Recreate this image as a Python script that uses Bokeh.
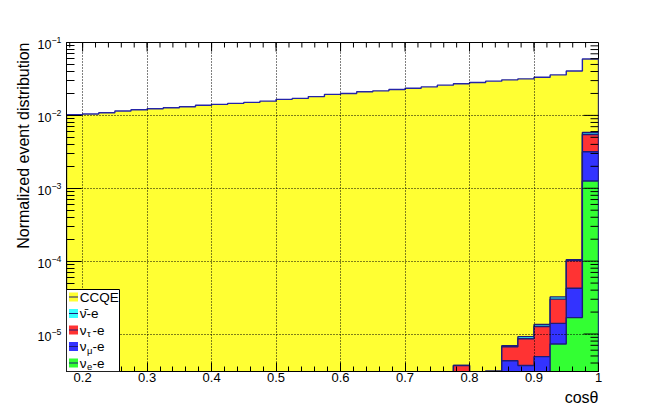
import math
from bokeh.plotting import figure
from bokeh.models import Range1d, FixedTicker, LogTickFormatter, BoxAnnotation, Label, Title
from bokeh.embed import file_html
from bokeh.resources import INLINE

# ---------------- data ----------------
bin_width = 0.025
bin_low = [0.175, 0.200, 0.225, 0.250, 0.275, 0.300, 0.325, 0.350, 0.375, 0.400,
           0.425, 0.450, 0.475, 0.500, 0.525, 0.550, 0.575, 0.600, 0.625, 0.650,
           0.675, 0.700, 0.725, 0.750, 0.775, 0.800, 0.825, 0.850, 0.875, 0.900,
           0.925, 0.950, 0.975]

ccqe = [0.01022, 0.01045, 0.01089, 0.01148, 0.01196, 0.01234, 0.01273, 0.01314,
        0.01374, 0.01417, 0.01462, 0.01510, 0.01571, 0.01659, 0.01711, 0.01811,
        0.01941, 0.02000, 0.02110, 0.02170, 0.02270, 0.02360, 0.02460, 0.02600,
        0.02710, 0.02830, 0.02950, 0.03070, 0.03170, 0.03340, 0.03590, 0.04060,
        0.05360]
nubar_e = [0, 0, 0, 0, 0, 0, 0, 0, 0, 0, 0, 0, 0, 0, 0, 0, 0, 0, 0, 0, 0, 0, 0, 0,
           0, 0, 0, 0.2e-6, 0.6e-6, 0.8e-6, 2.2e-6, 3.4e-6, 3.5e-4]
nutau_e = [0, 0, 0, 0, 0, 0, 0, 0, 0, 0, 0, 0, 0, 0, 0, 0, 0, 0, 0, 0, 0, 0, 0, 0,
           3.7e-6, 0, 3.1e-6, 2.4e-6, 4.9e-6, 7.8e-6, 1.61e-5, 5.9e-5, 2.29e-3]
numu_e = [0, 0, 0, 0, 0, 0, 0, 0, 0, 0, 0, 0, 0, 0, 0, 0, 0, 0, 0, 0, 0, 0, 0, 0,
          0, 0, 0, 4.3e-6, 3.7e-6, 4.9e-6, 6.7e-6, 2.57e-5, 1.91e-3]
nue_e = [0, 0, 0, 0, 0, 0, 0, 0, 0, 0, 0, 0, 0, 0, 0, 0, 0, 0, 0, 0, 0, 0, 0, 0,
         0, 0, 0, 0, 0, 0, 7.3e-6, 1.68e-5, 1.26e-3]

x_major_ticks = [0.2, 0.3, 0.4, 0.5, 0.6, 0.7, 0.8, 0.9, 1.0]
x_tick_labels = {1.0: "1"}
y_major_ticks = [1e-5, 1e-4, 1e-3, 1e-2, 1e-1]
x_title = "cosθ"
y_title = "Normalized event distribution"

# stacking order from bottom to top
layers = [
    ("ν_e-e", nue_e, "#33ff33"),
    ("ν_μ-e", numu_e, "#3333ff"),
    ("ν_τ-e", nutau_e, "#ff3333"),
    ("ν̄-e", nubar_e, "#33ffff"),
    ("CCQE", ccqe, "#ffff33"),
]

FONT = "Liberation Sans"
X_MIN, X_MAX = 0.175, 1.0
Y_MIN, Y_MAX = 3.06e-6, 0.1
FLOOR = 1e-9
W, H = 660, 411
BL, BR, BT, BB = 66, 62, 42, 40
FRAME_W, FRAME_H = W - BL - BR, H - BT - BB

p = figure(width=W, height=H, output_backend="svg", toolbar_location=None,
           x_range=Range1d(X_MIN, X_MAX), y_range=Range1d(Y_MIN, Y_MAX),
           y_axis_type="log", min_border_left=BL, min_border_right=BR,
           min_border_top=BT, min_border_bottom=BB)
p.outline_line_color = "black"
p.outline_line_width = 1
p.background_fill_color = "white"
p.border_fill_color = "white"

# cumulative stack
cum = [0.0] * len(bin_low)
cums = []
for name, vals, color in layers:
    cum = [c + v for c, v in zip(cum, vals)]
    cums.append((name, list(cum), color))

# draw from the top of the stack down (like THStack)
for name, c, color in reversed(cums):
    xs, ys = [bin_low[0]], [FLOOR]
    for lo, v in zip(bin_low, c):
        h = max(v, FLOOR)
        xs += [lo, lo + bin_width]
        ys += [h, h]
    xs.append(bin_low[-1] + bin_width)
    ys.append(FLOOR)
    p.patch(xs, ys, fill_color=color, line_color=None)
    lc = "#2424a8" if name == "CCQE" else "#1c1c78"
    p.line(xs, ys, line_color=lc, line_width=1.4)

# ticks
x_minor = [round(0.18 + 0.02 * i, 2) for i in range(42)]
y_minor = [k * 10.0 ** e for e in range(-6, -1) for k in range(2, 10)]
y_minor = [v for v in y_minor if Y_MIN < v < Y_MAX]

def style_axis(ax, maj, mnr):
    ax.major_tick_in = maj
    ax.major_tick_out = 0
    ax.minor_tick_in = mnr
    ax.minor_tick_out = 0
    ax.axis_line_color = "black"
    ax.major_tick_line_color = "black"
    ax.minor_tick_line_color = "black"
    ax.major_label_text_font = FONT
    ax.major_label_text_color = "black"

xa = p.xaxis[0]
xa.ticker = FixedTicker(ticks=x_major_ticks, minor_ticks=x_minor)
xa.major_label_overrides = x_tick_labels
style_axis(xa, 9, 5)
xa.major_label_text_font_size = "13px"
xa.major_label_standoff = 1

ya = p.yaxis[0]
ya.ticker = FixedTicker(ticks=y_major_ticks, minor_ticks=y_minor)
ya.formatter = LogTickFormatter()
style_axis(ya, 15, 8)
ya.major_label_text_font_size = "12.5px"
ya.major_label_standoff = 5

# axis titles as side titles, aligned to the frame end (ROOT style)
p.add_layout(Title(text=x_title, align="right", text_font=FONT, text_font_size="16px",
                   text_font_style="normal", text_color="black", standoff=5), "below")
p.add_layout(Title(text=y_title, align="right", text_font=FONT, text_font_size="16px",
                   text_font_style="normal", text_color="black", standoff=6), "left")

# ROOT-style ticks on the top and right frame edges (pixel lengths -> data units)
decades_per_px = math.log10(Y_MAX / Y_MIN) / FRAME_H
x_per_px = (X_MAX - X_MIN) / FRAME_W
tx0, tx1, ty0, ty1 = [], [], [], []
for t, L in [(t, 9) for t in x_major_ticks] + [(t, 5) for t in x_minor]:
    if X_MIN < t < X_MAX:
        tx0.append(t); tx1.append(t)
        ty0.append(Y_MAX); ty1.append(Y_MAX * 10 ** (-L * decades_per_px))
for t, L in [(t, 15) for t in y_major_ticks] + [(t, 8) for t in y_minor]:
    if Y_MIN < t < Y_MAX:
        tx0.append(X_MAX); tx1.append(X_MAX - L * x_per_px)
        ty0.append(t); ty1.append(t)
p.segment(x0=tx0, y0=ty0, x1=tx1, y1=ty1, line_color="black", line_width=1)

for g in (p.xgrid[0], p.ygrid[0]):
    g.grid_line_color = "black"
    g.grid_line_dash = "1 2"
    g.grid_line_width = 1
    g.level = "guide"

# legend (ROOT TLegend look)
def sbox(l, r, b, t, **kw):
    return BoxAnnotation(left=l, right=r, bottom=b, top=t,
                         left_units="screen", right_units="screen",
                         bottom_units="screen", top_units="screen", **kw)

p.add_layout(sbox(0, 53, 0, 82, fill_color="white", fill_alpha=1.0,
                  line_color="black", line_width=1, line_alpha=1.0))
row_y = [74.5, 58, 41.5, 25, 8.5]
for (name, c, color), yc in zip(list(reversed(cums)), row_y):
    p.add_layout(sbox(2.5, 11.5, yc - 4.5, yc + 4.5, fill_color=color,
                      fill_alpha=1.0, line_color=None))
    p.add_layout(sbox(2.5, 11.5, yc - 0.6, yc + 0.6, fill_color="#1c1c78",
                      fill_alpha=1.0, line_color=None))
    if "_" in name:
        base, rest = name.split("_")
        sub, tail = rest[0], rest[1:]
        p.add_layout(Label(x=13.3, y=yc, x_units="screen", y_units="screen", text=base,
                           text_baseline="middle", text_font=FONT,
                           text_font_size="13.5px", text_color="black"))
        p.add_layout(Label(x=20.5, y=yc - 3.5, x_units="screen", y_units="screen", text=sub,
                           text_baseline="middle", text_font=FONT,
                           text_font_size="9.5px", text_color="black"))
        p.add_layout(Label(x=26, y=yc, x_units="screen", y_units="screen", text=tail,
                           text_baseline="middle", text_font=FONT,
                           text_font_size="13.5px", text_color="black"))
    else:
        p.add_layout(Label(x=13.3, y=yc, x_units="screen", y_units="screen", text=name,
                           text_baseline="middle", text_font=FONT,
                           text_font_size="13.5px", text_color="black"))

open("out.html", "w").write(file_html(p, INLINE))
